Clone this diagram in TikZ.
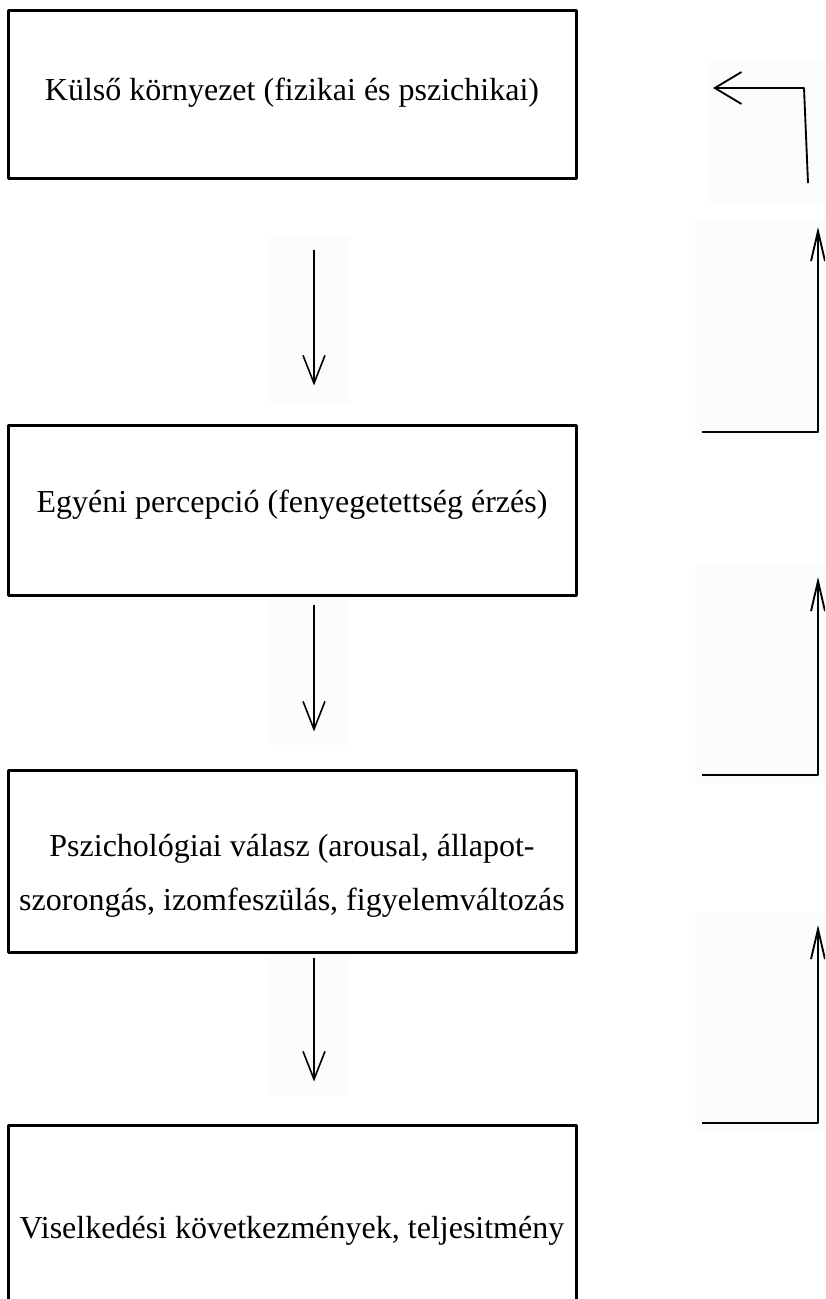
\documentclass[tikz,border=0pt]{standalone}
\usepackage{fontspec}
\setmainfont{Liberation Serif}
\usetikzlibrary{arrows.meta}

\begin{document}
\begin{tikzpicture}[x = .75pt, y = -.75pt, line join = round,
  stage/.style = {draw, line width = 2.25pt, minimum width = 426pt},
  words/.style = {align = center, font = \fontsize{24}{40}\selectfont},
  down/.style = {line width = 1.2pt,
    -{Straight Barb[length = 21pt, width = 16.5pt]}},
  back/.style = {line width = 1.4pt,
    -{Straight Barb[length = 22.5pt, width = 10.5pt]}},
  haze/.style = {fill = black!1}]
  \useasboundingbox (0, 0) rectangle (825, 1299);
  \clip (0, 0) rectangle (825, 1299);

  % faint patches behind the arrows
  \fill[haze] (270, 237) rectangle (350, 405);
  \fill[haze] (270, 597) rectangle (350, 745);
  \fill[haze] (270, 953) rectangle (350, 1095);
  \fill[haze] (707, 62) rectangle (825, 202);
  \fill[haze] (695, 219) rectangle (825, 440);
  \fill[haze] (695, 565) rectangle (825, 783);
  \fill[haze] (695, 913) rectangle (825, 1131);

  \node[stage, minimum height = 126pt] (kulso) at (292, 94) {};
  \node[stage, minimum height = 127.5pt] (percepcio) at (292, 510) {};
  \node[stage, minimum height = 136.5pt] (valasz) at (292, 861) {};
  \node[stage, minimum height = 150pt] (kovetkezmeny) at (292, 1225) {};

  \node[words] (kulsotext) at ([yshift = 1pt]kulso)
  {Külső környezet (fizikai és pszichikai)};
  \node[words] (percepciotext) at ([yshift = 4pt]percepcio)
  {Egyéni percepció (fenyegetettség érzés)};
  \node[words] (valasztext) at ([yshift = -11pt]valasz)
  {Pszichológiai válasz (arousal, állapot-\\szorongás, izomfeszülás,
    figyelemváltozás};
  \node[words] (kovetkezmenytext) at ([yshift = -4pt]kovetkezmeny)
  {Viselkedési következmények, teljesitmény};

  \draw[down] ([xshift = 16.5pt, yshift = -52.5pt]kulso.south) --
  ([xshift = 16.5pt, yshift = 28.5pt]percepcio.north);
  \draw[down] ([xshift = 16.5pt, yshift = -6pt]percepcio.south) --
  ([xshift = 16.5pt, yshift = 27.75pt]valasz.north);
  \draw[down] ([xshift = 16.5pt, yshift = -3pt]valasz.south) --
  ([xshift = 16.5pt, yshift = 31.5pt]kovetkezmeny.north);

  % feedback on the right
  \coordinate (F1) at (808, 183);
  \coordinate (F1k) at (804, 88);
  \coordinate (F1t) at (713, 88);
  \draw[line width = 1.4pt, -{Straight Barb[length = 20pt, width = 24pt]}]
  (F1) -- (F1k) -- (F1t);

  \coordinate (F2) at (702, 432);
  \coordinate (F2k) at (818, 432);
  \coordinate (F2t) at (818, 227);
  \draw[back] (F2) -- (F2k) -- (F2t);

  \coordinate (F3) at (702, 775);
  \coordinate (F3k) at (818, 775);
  \coordinate (F3t) at (818, 577);
  \draw[back] (F3) -- (F3k) -- (F3t);

  \coordinate (F4) at (702, 1123);
  \coordinate (F4k) at (818, 1123);
  \coordinate (F4t) at (818, 925);
  \draw[back] (F4) -- (F4k) -- (F4t);
\end{tikzpicture}
\end{document}
